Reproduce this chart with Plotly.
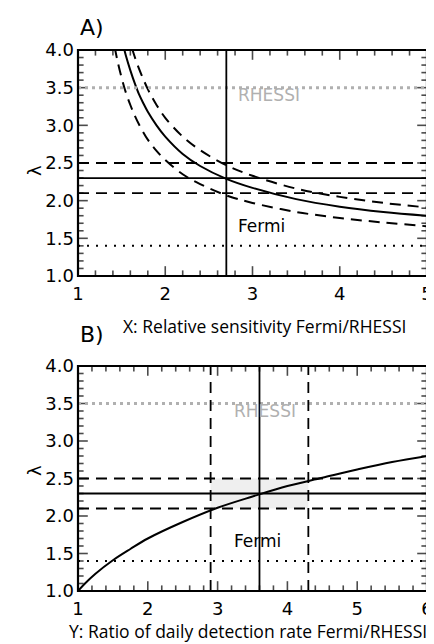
import plotly.graph_objects as go

# ---------------- data ----------------
lam_rhessi = 3.5          # RHESSI spectral index (grey dotted)
lam_fermi_low = 1.4       # black dotted
lam_best = 2.3            # solid horizontal
lam_lo, lam_hi = 2.1, 2.5 # dashed horizontals
X_best = 2.7              # panel A vertical
Y_best = 3.6              # panel B vertical (solid)
Y_lo, Y_hi = 2.9, 4.3     # panel B verticals (dashed)

# Panel A curves: lambda versus relative sensitivity X
a_solid_x = [1.53, 1.55, 1.6, 1.65, 1.7, 1.75, 1.8, 1.9, 2.0, 2.2, 2.4, 2.7, 3.0, 3.5, 4.0, 4.5, 5.0]
a_solid_y = [4.01, 3.92, 3.73, 3.56, 3.41, 3.29, 3.18, 3.00, 2.85, 2.62, 2.46, 2.29, 2.17, 2.02, 1.92, 1.85, 1.80]
a_lo_x = [1.42, 1.45, 1.5, 1.55, 1.6, 1.65, 1.7, 1.8, 1.9, 2.0, 2.2, 2.4, 2.7, 3.0, 3.5, 4.0, 4.5, 5.0]
a_lo_y = [4.04, 3.87, 3.63, 3.43, 3.27, 3.13, 3.01, 2.81, 2.66, 2.54, 2.35, 2.22, 2.07, 1.97, 1.85, 1.77, 1.71, 1.66]
a_hi_x = [1.62, 1.65, 1.7, 1.75, 1.8, 1.85, 1.9, 2.0, 2.2, 2.4, 2.7, 3.0, 3.5, 4.0, 4.5, 5.0]
a_hi_y = [4.02, 3.91, 3.75, 3.61, 3.48, 3.37, 3.27, 3.10, 2.85, 2.67, 2.47, 2.33, 2.16, 2.05, 1.97, 1.91]

# Panel B curve: lambda versus ratio of daily detection rate Y
b_x = [1.0, 1.1, 1.25, 1.5, 1.75, 2.0, 2.5, 3.0, 3.5, 4.0, 4.5, 5.0, 5.5, 6.0]
b_y = [1.00, 1.10, 1.23, 1.41, 1.56, 1.70, 1.92, 2.11, 2.26, 2.40, 2.51, 2.62, 2.72, 2.80]

# axes
xrange_a = [1, 5]
xrange_b = [1, 6]
yrange = [1, 4]
xa_ticks = [1, 2, 3, 4, 5]
xb_ticks = [1, 2, 3, 4, 5, 6]
y_ticks = [1.0, 1.5, 2.0, 2.5, 3.0, 3.5, 4.0]
y_ticktext = ["1.0", "1.5", "2.0", "2.5", "3.0", "3.5", "4.0"]
x_minor_per_unit = 5     # minor ticks every 0.2
y_minor_per_unit = 10    # minor ticks every 0.1

# ---------------- figure ----------------
fig = go.Figure()

DASH = "11px,7px"
GREY = "#b0b0b0"
TICKFONT = dict(family="DejaVu Sans", size=18, color="black")

def line_tr(x, y, xa, ya, dash=None):
    return go.Scatter(x=x, y=y, mode="lines", xaxis=xa, yaxis=ya, showlegend=False, hoverinfo="skip",
                      line=dict(color="black", width=2, shape="spline", dash=dash))

fig.add_trace(line_tr(a_solid_x, a_solid_y, "x", "y"))
fig.add_trace(line_tr(a_lo_x, a_lo_y, "x", "y", DASH))
fig.add_trace(line_tr(a_hi_x, a_hi_y, "x", "y", DASH))
fig.add_trace(line_tr(b_x, b_y, "x2", "y2"))

# panel B shaded box
fig.add_shape(type="rect", xref="x2", yref="y2", x0=Y_lo, x1=Y_hi, y0=lam_lo, y1=lam_hi,
              fillcolor="#efefef", line=dict(width=0), layer="below")

def hline(yv, xr, yr, line):
    fig.add_shape(type="line", xref=xr + " domain", yref=yr, x0=0, x1=1, y0=yv, y1=yv, line=line)

def vline(xv, xr, yr, line):
    fig.add_shape(type="line", xref=xr, yref=yr + " domain", x0=xv, x1=xv, y0=0, y1=1, line=line)

for xr, yr in (("x", "y"), ("x2", "y2")):
    hline(lam_rhessi, xr, yr, dict(color=GREY, width=3, dash="3px,4px"))
    hline(lam_fermi_low, xr, yr, dict(color="black", width=2, dash="2px,7px"))
    hline(lam_best, xr, yr, dict(color="black", width=1.8))
    hline(lam_lo, xr, yr, dict(color="black", width=1.8, dash=DASH))
    hline(lam_hi, xr, yr, dict(color="black", width=1.8, dash=DASH))

vline(X_best, "x", "y", dict(color="black", width=1.8))
vline(Y_best, "x2", "y2", dict(color="black", width=1.8))
vline(Y_lo, "x2", "y2", dict(color="black", width=1.8, dash=DASH))
vline(Y_hi, "x2", "y2", dict(color="black", width=1.8, dash=DASH))

# ---- IDL-style frame with inward ticks on all four sides ----
MAJ, MIN = 7.0, 4.0   # visible tick lengths in px

def frame_and_ticks(xa, ya, xrng, xmaj):
    fig.add_shape(type="rect", xref=xa + " domain", yref=ya + " domain", x0=0, x1=1, y0=0, y1=1,
                  line=dict(color="black", width=2.2), fillcolor="rgba(0,0,0,0)", layer="above")
    # x ticks: line markers centred on the bottom/top edges, half clipped away -> inward ticks
    n = int(round((xrng[1] - xrng[0]) * x_minor_per_unit))
    xv = [xrng[0] + i / x_minor_per_unit for i in range(1, n)]
    xs = [2 * (MAJ if any(abs(v - m) < 1e-9 for m in xmaj) else MIN) for v in xv]
    for edge in yrange:
        fig.add_trace(go.Scatter(x=xv, y=[edge] * len(xv), xaxis=xa, yaxis=ya, mode="markers",
                                 cliponaxis=True, showlegend=False, hoverinfo="skip",
                                 marker=dict(symbol="line-ns", size=xs, color="black",
                                             line=dict(width=1.6, color="black"))))
    # y ticks
    n = int(round((yrange[1] - yrange[0]) * y_minor_per_unit))
    yv = [yrange[0] + i / y_minor_per_unit for i in range(1, n)]
    ys = [2 * (MAJ if any(abs(v - m) < 1e-9 for m in y_ticks) else MIN) for v in yv]
    for edge in xrng:
        fig.add_trace(go.Scatter(x=[edge] * len(yv), y=yv, xaxis=xa, yaxis=ya, mode="markers",
                                 cliponaxis=True, showlegend=False, hoverinfo="skip",
                                 marker=dict(symbol="line-ew", size=ys, color="black",
                                             line=dict(width=1.6, color="black"))))

frame_and_ticks("x", "y", xrange_a, xa_ticks)
frame_and_ticks("x2", "y2", xrange_b, xb_ticks)

DOM_A = [0.5823, 1.0]
DOM_B = [0.0, 0.4159]

def ax(rng, tickvals, ticktext, anchor, standoff, domain=None):
    d = dict(range=rng, tickmode="array", tickvals=tickvals, ticktext=ticktext, anchor=anchor,
             showline=False, ticks="", showgrid=False, zeroline=False, tickfont=TICKFONT,
             ticklabelstandoff=standoff)
    if domain is not None:
        d["domain"] = domain
    return d

fig.update_layout(
    width=434, height=644,
    margin=dict(l=70, r=9, t=42, b=61),
    plot_bgcolor="white", paper_bgcolor="white",
    showlegend=False,
    xaxis=ax(xrange_a, xa_ticks, [str(v) for v in xa_ticks], "y", 5),
    yaxis=ax(yrange, y_ticks, y_ticktext, "x", 3, DOM_A),
    xaxis2=ax(xrange_b, xb_ticks, [str(v) for v in xb_ticks], "y2", 5),
    yaxis2=ax(yrange, y_ticks, y_ticktext, "x2", 3, DOM_B),
)

TITLE = dict(family="Open Sans", size=17.5, color="black")
LBL = dict(family="DejaVu Sans", size=17)
ann = [
    dict(text="A)", x=0.0, y=1.0425, xref="paper", yref="paper", xanchor="left", yanchor="middle", showarrow=False, font=dict(family="DejaVu Sans", size=22, color="black")),
    dict(text="B)", x=0.0, y=0.475, xref="paper", yref="paper", xanchor="left", yanchor="middle", showarrow=False, font=dict(family="DejaVu Sans", size=22, color="black")),
    dict(text="λ", x=-0.1606, y=0.791, xref="paper", yref="paper", textangle=-90, showarrow=False, font=dict(family="DejaVu Sans", size=18, color="black")),
    dict(text="λ", x=-0.1606, y=0.2089, xref="paper", yref="paper", textangle=-90, showarrow=False, font=dict(family="DejaVu Sans", size=18, color="black")),
    dict(text="X: Relative sensitivity Fermi/RHESSI", x=0.535, y=0.4898, xref="paper", yref="paper", showarrow=False, font=TITLE),
    dict(text="Y: Ratio of daily detection rate Fermi/RHESSI", x=0.487, y=-0.1, xref="paper", yref="paper", showarrow=False, font=TITLE),
    dict(text="RHESSI", x=2.81, y=3.4, xref="x", yref="y", xanchor="left", showarrow=False, font=dict(LBL, color=GREY)),
    dict(text="Fermi", x=2.81, y=1.67, xref="x", yref="y", xanchor="left", showarrow=False, font=dict(LBL, color="black")),
    dict(text="RHESSI", x=3.21, y=3.4, xref="x2", yref="y2", xanchor="left", showarrow=False, font=dict(LBL, color=GREY)),
    dict(text="Fermi", x=3.21, y=1.67, xref="x2", yref="y2", xanchor="left", showarrow=False, font=dict(LBL, color="black")),
]
for a in ann:
    fig.add_annotation(**a)

fig.write_html("out.html")
